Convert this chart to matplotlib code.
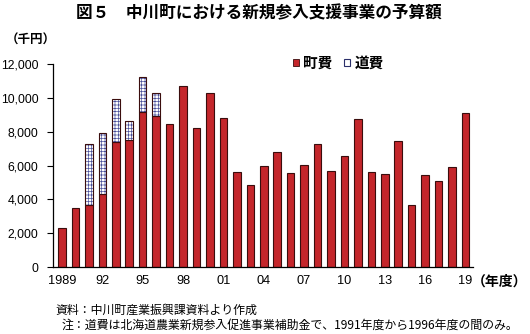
import matplotlib
matplotlib.use("Agg")
import matplotlib.pyplot as plt
from matplotlib.patches import Patch
import numpy as np

plt.rcParams['font.family'] = ['Noto Sans CJK JP', 'DejaVu Sans']
plt.rcParams['hatch.linewidth'] = 0.5

# 年度 (1989–2019)
years = list(range(1989, 2020))
# 町費 (千円)
town = [2300, 3470, 3650, 4300, 7370, 7500, 9150, 8950, 8430, 10680,
        8200, 10300, 8800, 5600, 4830, 5950, 6780, 5540, 6010, 7250,
        5660, 6540, 8730, 5600, 5480, 7430, 3650, 5420, 5060, 5890, 9080]
# 道費 (千円) — 1991〜1996年度のみ
pref = [0, 0, 3600, 3600, 2580, 1150, 2100, 1350, 0, 0,
        0, 0, 0, 0, 0, 0, 0, 0, 0, 0,
        0, 0, 0, 0, 0, 0, 0, 0, 0, 0, 0]
tick_years = list(range(1989, 2020, 3))
tick_labels = ['1989'] + [f"{y % 100:02d}" for y in tick_years[1:]]

red = '#C4262B'
edge = '#3a0d0d'
hatch_col = '#4a4f9a'

fig = plt.figure(figsize=(5.30, 3.34), dpi=100)
ax = fig.add_axes([53/530, 1-267/334, 420/530, 203/334])

x = np.arange(len(years))
w = 0.56
town_a = np.array(town)
pref_a = np.array(pref)

ax.bar(x, town_a, width=w, color=red, edgecolor=edge, linewidth=0.8, zorder=2)
mask = pref_a > 0
ax.bar(x[mask], pref_a[mask], width=w, bottom=town_a[mask], color='white',
       edgecolor=hatch_col, hatch='+++++', linewidth=0, zorder=2)
ax.bar(x[mask], pref_a[mask], width=w, bottom=town_a[mask], fill=False,
       edgecolor=edge, linewidth=0.8, zorder=3)

ax.set_xlim(-0.67, 30.56)
ax.set_ylim(0, 12000)
ax.set_yticks(np.arange(0, 12001, 2000))
ax.set_yticklabels([f"{v:,}" for v in range(0, 12001, 2000)],
                   family=['Liberation Sans', 'DejaVu Sans'], fontsize=8.8)
ax.set_xticks([years.index(y) for y in tick_years])
ax.set_xticklabels(tick_labels, family=['Liberation Sans', 'DejaVu Sans'], fontsize=9.2)
ax.tick_params(axis='x', length=0, pad=6)
ax.tick_params(axis='y', direction='out', length=4.5, width=0.8, pad=6)
for s in ['top', 'right']:
    ax.spines[s].set_visible(False)
for s in ['left', 'bottom']:
    ax.spines[s].set_linewidth(0.9)
    ax.spines[s].set_color('black')

handles = [Patch(facecolor=red, edgecolor=edge, linewidth=0.6, label='町費'),
           Patch(facecolor='white', edgecolor='#2a2f6a', linewidth=0.8, label='道費')]
fig.legend(handles=handles, loc='center left', bbox_to_anchor=(280/530, 1-63/334),
           ncol=2, frameon=False, handlelength=0.4, handleheight=0.4,
           handletextpad=0.3, columnspacing=0.8,
           prop={'size': 10.5, 'weight': 'bold'})

fig.text(259/530, 1-13/334, '図５　中川町における新規参入支援事業の予算額',
         ha='center', va='center', fontsize=12, fontweight='bold')
fig.text(6/530, 1-40/334, '（千円）', ha='left', va='center', fontsize=9, fontweight='bold')
fig.text(472/530, 1-282/334, '（年度）', ha='left', va='center', fontsize=10, fontweight='bold')
fig.text(55/530, 1-310/334, '資料：中川町産業振興課資料より作成',
         ha='left', va='center', fontsize=8.6)
fig.text(62/530, 1-325/334,
         '注：道費は北海道農業新規参入促進事業補助金で、1991年度から1996年度の間のみ。',
         ha='left', va='center', fontsize=8.6)

fig.savefig('out.png', dpi=100)
